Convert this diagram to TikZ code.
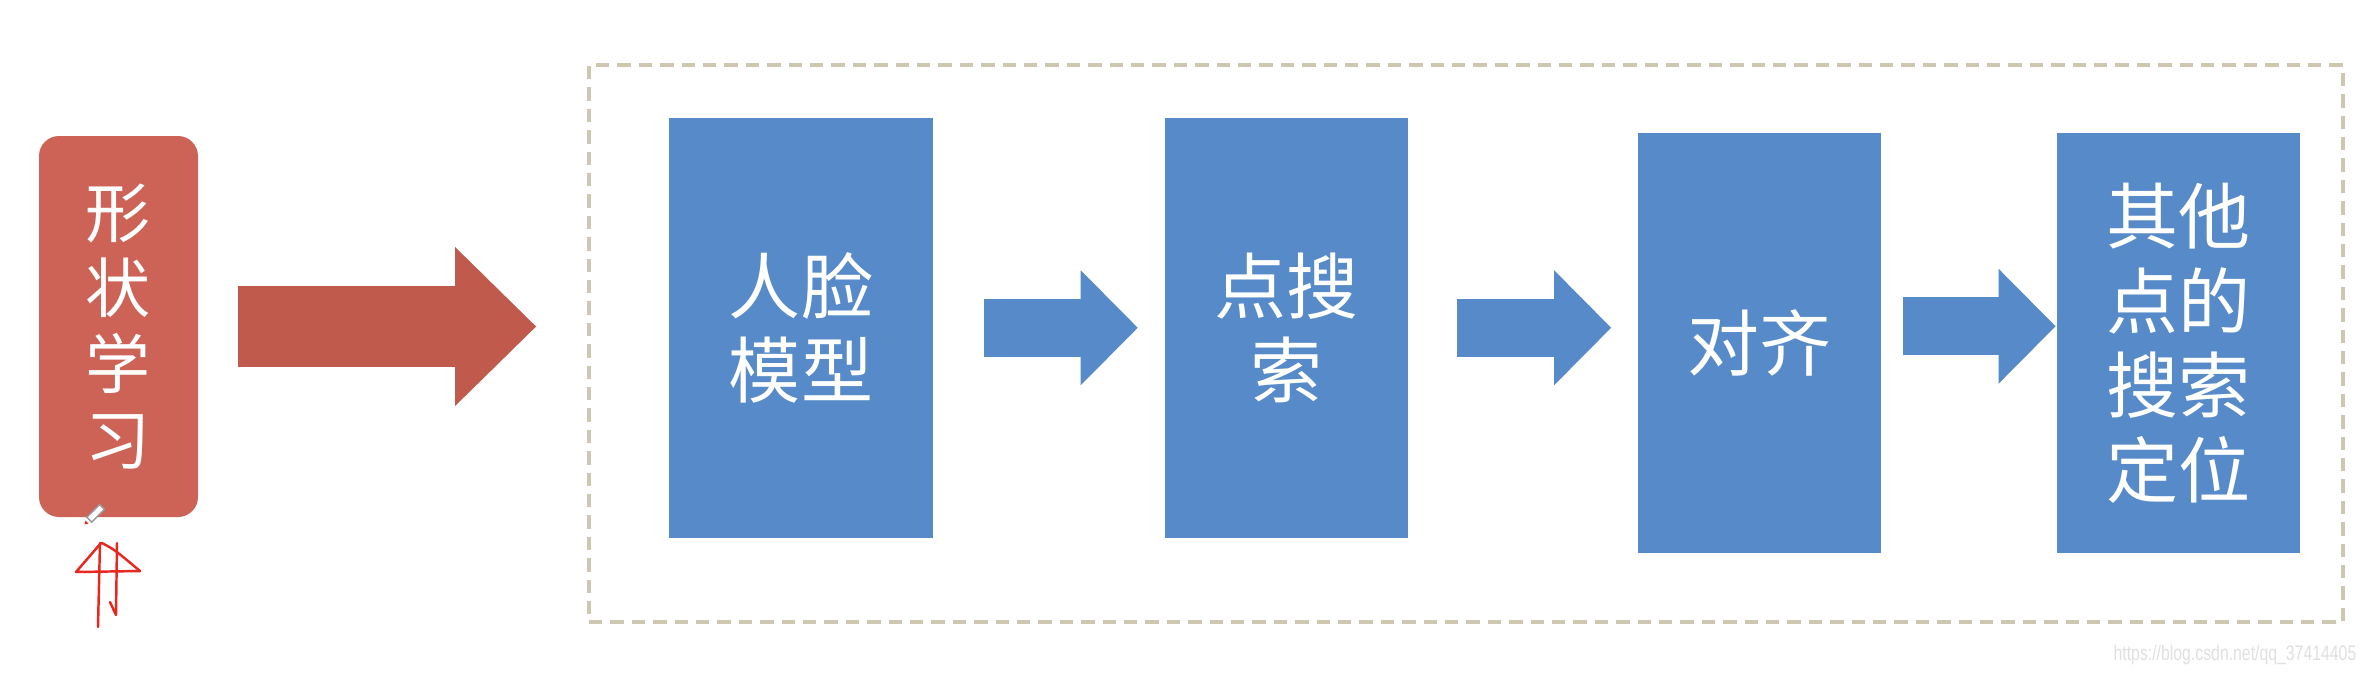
\documentclass[tikz,border=0pt]{standalone}
\usepackage{fontspec}
\usepackage{graphicx}
\newfontfamily\cjk{Noto Sans CJK SC}
\newfontfamily\urlfont{Liberation Sans}
\usetikzlibrary{arrows.meta, positioning}

\definecolor{faceblue}{RGB}{86,138,200}
\definecolor{learnred}{RGB}{205,99,87}
\definecolor{arrowred}{RGB}{192,90,77}
\definecolor{framegray}{RGB}{205,198,176}
\definecolor{inkred}{RGB}{232,40,30}

\begin{document}
\begin{tikzpicture}[node distance=2cm, >=Stealth,
		stage/.style={fill=faceblue, text=white, minimum width=2.43cm, minimum height=4.2cm, inner sep=0pt, align=center, font=\cjk\fontsize{20.5pt}{24pt}\selectfont},
		flow/.style={draw=faceblue, line width=5.8mm, -{Triangle[width=11.5mm, length=5.7mm, line width=0pt]}},
		ink/.style={draw=inkred, line width=0.7pt, line cap=round, line join=round}]
				\useasboundingbox (0,0) rectangle (23.67,6.74);
				\fill [white] (0,0) rectangle (23.67,6.74);
				
				\node [fill=learnred, text=white, rounded corners=2mm, minimum width=1.59cm, minimum height=3.81cm, inner sep=0pt, align=center, font=\cjk\fontsize{18.5pt}{21.6pt}\selectfont] (learn) at (1.185,3.475) {形\\状\\学\\习};
				\node [draw=framegray, line width=1.1pt, dash pattern=on 1.34mm off 0.8mm, minimum width=17.54cm, minimum height=5.57cm] (frame) at (14.66,3.305) {};
				
				\node [stage, minimum width=2.64cm] (face) at (8.01,3.4625) {人脸\\模型};
				\node [stage, right=2.31cm of face] (search) {点搜\\索};
				\node [stage, right=2.28cm of search, yshift=-1.55mm] (aligned) {对齐};
				\node [stage, right=1.75cm of aligned] (locate) {其他\\点的\\搜索\\定位};
				
				\draw [draw=arrowred, line width=8.1mm, -{Triangle[width=15.9mm, length=8.1mm, line width=0pt]}, shorten <=3.9mm, shorten >=5.1mm] (learn.east) -- (learn.east -| frame.west);
				\draw [flow, shorten <=5mm, shorten >=2.7mm] (face.east) -- (search.west);
				\draw [flow, shorten <=4.8mm, shorten >=2.6mm] (search.east) -- (search.east -| aligned.west);
				\draw [flow, shorten <=2.1mm, shorten >=0.1mm] ([yshift=1.7mm]aligned.east) -- ([yshift=1.7mm]locate.west);
				
				% pen mark under the red box
				\draw [gray!80, fill=white, line width=0.4pt, rotate around={45:(0.95,1.60)}] (0.87,1.565) rectangle (1.05,1.635);
				\fill [inkred] (0.845,1.495) -- (0.885,1.505) -- (0.855,1.535) -- cycle;
				\draw [ink] (1.00,1.31) -- (0.98,0.47);
				\draw [ink] (1.01,1.31) -- (0.76,1.02) -- (1.40,1.03);
				\draw [ink] (1.02,1.31) .. controls (1.15,1.24) .. (1.40,1.03);
				\draw [ink] (1.17,1.31) -- (1.16,0.59) -- (1.10,0.72);
				
				\node [anchor=east, inner sep=0pt, text=black!12, font=\urlfont\fontsize{6pt}{7pt}\selectfont] (mark) at (23.57,0.185) {\scalebox{0.75}[1]{https://blog.csdn.net/qq\_37414405}};
			\end{tikzpicture}
\end{document}
